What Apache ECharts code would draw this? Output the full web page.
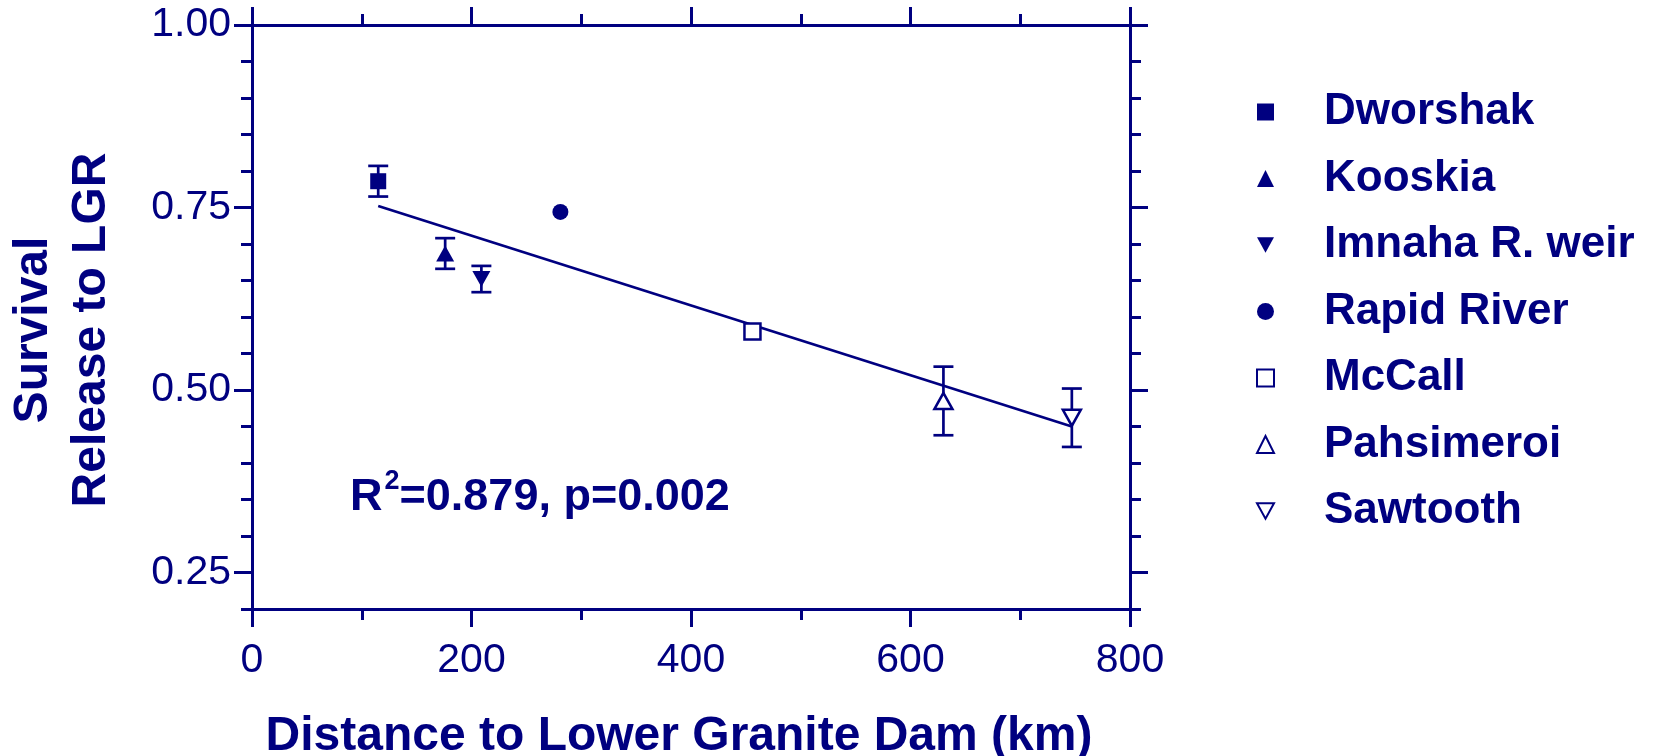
<!DOCTYPE html>
<html>
<head>
<meta charset="utf-8">
<script src="https://cdn.jsdelivr.net/npm/echarts@6/dist/echarts.min.js"></script>
<style>
html,body{margin:0;padding:0;background:#fff;}
#chart{width:1661px;height:756px;}
</style>
</head>
<body>
<div id="chart"></div>
<script>
// ---- data ----
const sites = ['Dworshak', 'Kooskia', 'Imnaha R. weir', 'Rapid River', 'McCall', 'Pahsimeroi', 'Sawtooth'];
const distanceKm = [115, 176, 209, 281, 456, 630, 747];
const survival = [0.786, 0.687, 0.652, 0.744, 0.580, 0.485, 0.462];
const stdErr = [0.021, 0.021, 0.018, 0, 0, 0.047, 0.040];
const fitX = [115, 747];
const fitY = [0.752, 0.450];
const yMajorTicks = [0.25, 0.50, 0.75, 1.00];
const xTickInterval = 200;
const annotationText = ['R', '2', '=0.879, p=0.002'];

// ---- styles ----
const NAVY = '#000080';
const FONT = "'Liberation Sans', Arial, Helvetica, sans-serif";
const invTri = 'path://M0,0 L20,0 L10,18 Z';
const symbols = ['rect', 'triangle', invTri, 'circle', 'rect', 'triangle', invTri];
const sizes = [16, [18, 16], [18, 16], 16, 16, [18, 16], [18, 16]];
const hollow = [false, false, false, false, true, true, true];

const scatterSeries = sites.map((name, i) => ({
  name: name,
  type: 'scatter',
  symbol: symbols[i],
  symbolSize: sizes[i],
  z: 5,
  itemStyle: hollow[i]
    ? { color: '#ffffff', borderColor: NAVY, borderWidth: 2.5, opacity: 1 }
    : { color: NAVY, opacity: 1 },
  data: [[distanceKm[i], survival[i]]]
}));

const errData = [];
sites.forEach((n, i) => { if (stdErr[i] > 0) errData.push([distanceKm[i], survival[i], stdErr[i]]); });

const errSeries = {
  type: 'custom',
  z: 3,
  silent: true,
  data: errData,
  renderItem: function (params, api) {
    const x = api.value(0), y = api.value(1), e = api.value(2);
    const top = api.coord([x, y + e]);
    const bot = api.coord([x, y - e]);
    const hw = 10;
    const st = { stroke: NAVY, lineWidth: 2.7 };
    return {
      type: 'group',
      children: [
        { type: 'line', shape: { x1: top[0], y1: top[1], x2: bot[0], y2: bot[1] }, style: st },
        { type: 'line', shape: { x1: top[0] - hw, y1: top[1], x2: top[0] + hw, y2: top[1] }, style: st },
        { type: 'line', shape: { x1: bot[0] - hw, y1: bot[1], x2: bot[0] + hw, y2: bot[1] }, style: st }
      ]
    };
  }
};

const fitSeries = {
  type: 'line',
  z: 2,
  symbol: 'none',
  silent: true,
  lineStyle: { color: NAVY, width: 2.7 },
  data: fitX.map((x, i) => [x, fitY[i]])
};

const lineStyle = { color: NAVY, width: 3 };

function xAxisDef(pos, showLabel) {
  return {
    type: 'value', position: pos, min: 0, max: 800, interval: xTickInterval,
    axisLine: { show: true, onZero: false, lineStyle: lineStyle },
    axisTick: { show: true, length: 18, lineStyle: lineStyle },
    minorTick: { show: true, splitNumber: 2, length: 11, lineStyle: lineStyle },
    splitLine: { show: false },
    minorSplitLine: { show: false },
    axisLabel: { show: showLabel, margin: 31, fontSize: 41, color: NAVY, fontFamily: FONT },
    name: showLabel ? 'Distance to Lower Granite Dam (km)' : '',
    nameLocation: 'middle',
    nameGap: 104,
    nameTextStyle: { fontSize: 48, fontWeight: 'bold', color: NAVY, fontFamily: FONT, padding: [0, 24, 0, 0] }
  };
}

function yMajorDef(pos, showLabel) {
  const d = {
    type: 'value', position: pos, min: 0.2, max: 1.0,
    axisLine: { show: true, onZero: false, lineStyle: lineStyle },
    axisTick: { show: true, length: 18, customValues: yMajorTicks, lineStyle: lineStyle },
    splitLine: { show: false },
    axisLabel: {
      show: showLabel, customValues: yMajorTicks, margin: 21, fontSize: 41, color: NAVY, fontFamily: FONT,
      formatter: v => Number(v).toFixed(2)
    }
  };
  if (showLabel) {
    d.name = 'Survival\nRelease to LGR';
    d.nameLocation = 'middle';
    d.nameRotate = 90;
    d.nameGap = 131;
    d.nameTextStyle = { fontSize: 48, fontWeight: 'bold', color: NAVY, fontFamily: FONT, lineHeight: 58, padding: [0, 26, 0, 0] };
  }
  return d;
}

function yMinorDef(pos) {
  return {
    type: 'value', position: pos, min: 0.2, max: 1.0, interval: 0.05,
    axisLine: { show: false, onZero: false },
    axisTick: { show: true, length: 11, lineStyle: lineStyle },
    splitLine: { show: false },
    axisLabel: { show: false }
  };
}

const chart = echarts.init(document.getElementById('chart'), null, { renderer: 'canvas' });
chart.setOption({
  backgroundColor: '#ffffff',
  animation: false,
  textStyle: { fontFamily: FONT },
  grid: { left: 252, right: 531, top: 25, bottom: 147, containLabel: false, outerBoundsMode: 'none' },
  xAxis: [xAxisDef('bottom', true), xAxisDef('top', false)],
  yAxis: [yMajorDef('left', true), yMinorDef('left'), yMajorDef('right', false), yMinorDef('right')],
  legend: {
    data: sites,
    orient: 'vertical',
    left: 1251,
    top: 85,
    itemWidth: 17,
    itemHeight: 17,
    itemGap: 22.5,
    selectedMode: false,
    textStyle: { fontSize: 44, fontWeight: 'bold', color: NAVY, fontFamily: FONT, padding: [0, 0, 0, 45] }
  },
  graphic: [{
    type: 'text',
    left: 350,
    top: 468,
    style: {
      text: '{b|' + annotationText[0] + '}{s|' + annotationText[1] + '}{b|' + annotationText[2] + '}',
      rich: {
        b: { fontSize: 45, fontWeight: 'bold', fill: NAVY, fontFamily: FONT, lineHeight: 52, verticalAlign: 'bottom' },
        s: { fontSize: 27, fontWeight: 'bold', fill: NAVY, fontFamily: FONT, lineHeight: 52, verticalAlign: 'top', padding: [0, 0, 0, 2] }
      }
    }
  }],
  series: [fitSeries, errSeries].concat(scatterSeries)
});
</script>
</body>
</html>
